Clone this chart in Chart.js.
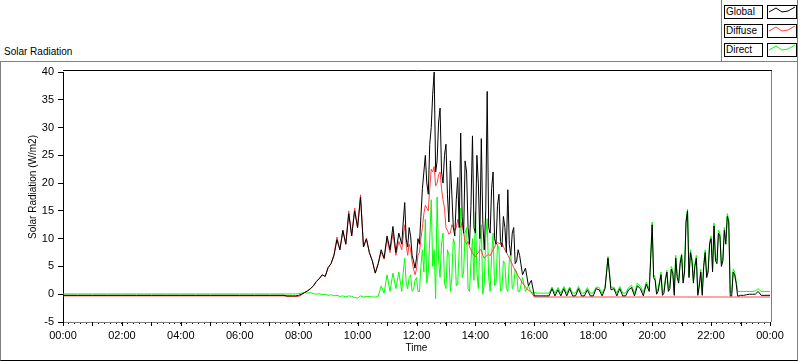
<!DOCTYPE html>
<html>
<head>
<meta charset="utf-8">
<script src="https://cdn.jsdelivr.net/npm/chart.js@4.4.1/dist/chart.umd.min.js"></script>
<style>
body{margin:0;background:#fff;font-family:"Liberation Sans",Arial,sans-serif;}
#wrap{position:relative;width:800px;height:361px;overflow:hidden;background:#fff}
#c{position:absolute;left:0;top:0}
.frame{position:absolute;left:0;top:61px;width:796px;height:298px;border-top:1px solid #808080;border-left:1px solid #808080;border-right:1px solid #808080;border-bottom:1px solid #000}
.panel{position:absolute;left:721px;top:0;width:75px;height:61px;border-left:1px solid #808080;border-right:1px solid #808080}
.title{position:absolute;left:4px;top:45px;font-size:10px;line-height:13px;color:#000}
.lab{position:absolute;left:724px;width:36px;height:12px;border:1px solid #000;font-size:10px;line-height:12px;padding-left:1px;color:#000}
.smp{position:absolute;left:767px;width:28px;height:12px;border:1px solid #000}
.smp svg{display:block}
</style>
</head>
<body>
<div id="wrap">
  <div class="frame"></div>
  <div class="panel"></div>
  <div class="title">Solar Radiation</div>
  <div class="lab" style="top:5px">Global</div>
  <div class="smp" style="top:5px"><svg width="28" height="12"><polyline points="1,6 8,2 14,6 20,5 27,1" fill="none" stroke="#000" stroke-width="1"/></svg></div>
  <div class="lab" style="top:24px">Diffuse</div>
  <div class="smp" style="top:24px"><svg width="28" height="12"><polyline points="1,6 8,2 14,6 20,5 27,1" fill="none" stroke="#ff4040" stroke-width="1"/></svg></div>
  <div class="lab" style="top:43px">Direct</div>
  <div class="smp" style="top:43px"><svg width="28" height="12"><polyline points="1,6 8,2 14,6 20,5 27,1" fill="none" stroke="#00ff00" stroke-width="1"/></svg></div>
  <canvas id="c" width="800" height="361"></canvas>
</div>
<script>
// sample times in hours of the day
const times = [
  // night
  0, 0.5, 1, 1.5, 2, 2.5, 3, 3.5, 4, 4.5, 5, 5.5, 6, 6.5, 7, 7.5,
  // morning
  7.6, 7.7, 7.8, 7.9,
  8.0, 8.1, 8.2, 8.3, 8.4, 8.5, 8.6, 8.7, 8.8, 8.9,
  9.0, 9.1, 9.2, 9.3, 9.4, 9.5, 9.6, 9.7, 9.8, 9.9,
  10.0, 10.1, 10.2, 10.3, 10.4, 10.5, 10.6, 10.7, 10.8, 10.9,
  11.0, 11.1, 11.2, 11.3, 11.4,
  // midday
  11.5, 11.55, 11.6, 11.65, 11.7, 11.75, 11.8, 11.85, 11.9, 11.95,
  12.0, 12.05, 12.1, 12.15, 12.2, 12.25, 12.3, 12.35, 12.4, 12.45,
  12.5, 12.55, 12.6, 12.65, 12.7, 12.75, 12.8, 12.85, 12.9, 12.95,
  13.0, 13.05, 13.1, 13.15, 13.2, 13.25, 13.3, 13.35, 13.4, 13.45,
  13.5, 13.55, 13.6, 13.65, 13.7, 13.75, 13.8, 13.85, 13.9, 13.95,
  14.0, 14.05, 14.1, 14.15, 14.2, 14.25, 14.3, 14.35, 14.4, 14.45,
  14.5, 14.55, 14.6, 14.65, 14.7, 14.75, 14.8, 14.85, 14.9, 14.95,
  15.0, 15.05, 15.1, 15.15, 15.2, 15.25, 15.3, 15.35, 15.4, 15.45,
  15.5,
  // afternoon
  15.6, 15.7, 15.8, 15.9,
  16.0, 16.1, 16.2, 16.3, 16.4, 16.5, 16.6, 16.7, 16.8, 16.9,
  17.0, 17.1, 17.2, 17.3, 17.4, 17.5, 17.6, 17.7, 17.8, 17.9,
  18.0, 18.1, 18.2, 18.3, 18.4, 18.5, 18.6, 18.7, 18.8, 18.9,
  19.0, 19.1, 19.2, 19.3, 19.4, 19.5, 19.6, 19.7, 19.8, 19.9,
  // evening
  20.0, 20.05, 20.1, 20.15, 20.2, 20.25, 20.3, 20.35, 20.4, 20.45,
  20.5, 20.55, 20.6, 20.65, 20.7, 20.75, 20.8, 20.85, 20.9, 20.95,
  21.0, 21.05, 21.1, 21.15, 21.2, 21.25, 21.3, 21.35, 21.4, 21.45,
  21.5, 21.55, 21.6, 21.65, 21.7, 21.75, 21.8, 21.85, 21.9, 21.95,
  22.0, 22.05, 22.1, 22.15, 22.2, 22.25, 22.3, 22.35, 22.4, 22.45,
  22.5, 22.55, 22.6, 22.65, 22.7, 22.75, 22.8, 22.85, 22.9, 22.95,
  23.0,
  23.1, 23.2, 23.3, 23.4, 23.5, 23.6, 23.7, 23.8, 23.9, 24.0
];

const globalRad = [
  -0.2, -0.2, -0.2, -0.2, -0.2, -0.2, -0.2, -0.2, -0.2, -0.2, -0.2, -0.2, -0.2, -0.2, -0.2, -0.2,
  -0.3, -0.3, -0.3, -0.3,
  -0.2, 0.0, 0.3, 0.6, 1.0, 1.5, 2.3, 2.8, 3.5, 3.2,
  4.8, 5.5, 7.0, 9.8, 8.0, 11.5, 9.0, 14.5, 10.5, 15.0,
  12.0, 17.5, 8.5, 10.0, 7.5, 6.0, 3.8, 5.5, 8.0, 6.5,
  10.5, 8.0, 12.2, 7.5, 11.0,
  9.0, 13.0, 16.5, 10.0, 8.5, 12.0, 10.5, 7.0, 6.0, 4.7,
  6.5, 10.0, 9.0, 14.0, 19.0, 22.0, 25.0, 20.0, 18.0, 27.0,
  30.0, 36.0, 40.0, 22.0, 24.0, 31.0, 33.5, 22.0, 20.0, 25.0,
  27.0, 18.0, 13.0, 24.0, 18.0, 12.0, 10.5, 17.0, 21.0, 12.0,
  29.0, 14.0, 11.0, 24.0, 22.0, 12.0, 9.0, 16.0, 28.5, 12.0,
  11.0, 25.0, 20.0, 10.0, 28.0, 13.0, 8.0, 15.0, 36.5, 12.0,
  11.0, 19.0, 22.0, 10.0, 9.0, 16.0, 18.0, 9.5, 8.5, 14.0,
  12.0, 7.5, 18.8, 9.0, 7.0, 11.0, 12.0, 5.5, 6.0, 8.0,
  7.0,
  3.5, 4.7, 1.5, 2.5,
  -0.3, -0.3, -0.3, -0.3, -0.3, -0.3, 1.0, -0.3, 0.8, -0.3,
  1.0, -0.3, 1.0, -0.3, -0.3, 1.0, -0.3, -0.3, 0.8, -0.3,
  -0.3, 1.0, 0.8, -0.3, 1.0, 6.5, 0.8, 1.0, -0.3, 1.0,
  -0.3, -0.3, 0.8, 1.2, -0.3, 1.5, 1.0, -0.3, 1.8, 0.5,
  12.5, 3.0, 2.5, 0.0, 0.5, 2.0, 3.5, -0.2, 0.2, 2.5,
  4.0, 0.5, 1.0, 4.5, 3.8, -0.2, 6.5, 3.0, 2.0, 5.5,
  7.0, 2.0, 4.0, 13.0, 15.0, 3.0, 7.5, 6.0, 2.0, 5.0,
  6.5, -0.2, 1.5, 4.0, -0.2, 5.0, 7.5, 3.0, 4.0, 9.0,
  10.0, 4.0, 12.3, 6.0, 5.5, 11.0, 10.5, 5.0, 6.0, 11.5,
  9.0, 14.0, 13.0, -0.3, -0.3, 4.0, 3.5, 2.0, -0.3, -0.3,
  -0.2,
  -0.2, -0.1, 0.0, 0.0, 0.0, 0.5, -0.2, -0.2, -0.2, -0.2
];

const diffuseRad = [
  -0.3, -0.3, -0.3, -0.3, -0.3, -0.3, -0.3, -0.3, -0.3, -0.3, -0.3, -0.3, -0.3, -0.3, -0.3, -0.3,
  -0.4, -0.4, -0.4, -0.4,
  -0.4, -0.1, 0.3, 0.6, 1.0, 1.5, 2.3, 2.8, 3.5, 3.2,
  4.8, 5.5, 7.2, 10.3, 8.0, 11.5, 9.0, 15.0, 10.5, 15.5,
  12.0, 17.9, 8.5, 10.0, 7.5, 6.0, 3.8, 5.5, 7.6, 6.3,
  10.0, 7.5, 11.0, 7.0, 9.5,
  8.0, 10.5, 12.5, 9.0, 7.0, 9.0, 8.0, 6.0, 4.5, 3.5,
  4.5, 7.0, 7.5, 10.0, 12.0, 14.5, 16.0, 15.5, 15.0, 19.0,
  22.5, 22.0, 23.0, 19.5, 20.0, 21.5, 22.0, 19.0, 17.0, 15.5,
  12.0, 11.5, 10.8, 11.0, 12.5, 12.0, 11.5, 12.0, 13.5, 12.5,
  12.0, 13.0, 11.0, 9.5, 9.0, 9.5, 8.5, 8.0, 7.5, 7.0,
  6.7, 7.2, 7.5, 8.0, 8.0, 7.0, 6.5, 6.8, 7.0, 7.2,
  6.9, 7.5, 8.0, 8.5, 9.0, 9.3, 9.2, 9.0, 9.2, 8.6,
  8.0, 7.6, 7.0, 6.5, 6.0, 5.4, 4.8, 4.3, 3.8, 3.3,
  2.9,
  2.0, 1.3, 0.7, 0.4,
  -0.5, -0.5, -0.5, -0.5, -0.5, -0.5, -0.5, -0.5, -0.5, -0.5,
  -0.5, -0.5, -0.5, -0.5, -0.5, -0.5, -0.5, -0.5, -0.5, -0.5,
  -0.5, -0.5, -0.5, -0.5, -0.5, -0.5, -0.5, -0.5, -0.5, -0.5,
  -0.5, -0.5, -0.5, -0.5, -0.5, -0.5, -0.5, -0.5, -0.5, -0.5,
  -0.5, -0.5, -0.5, -0.5, -0.5, -0.5, -0.5, -0.5, -0.5, -0.5,
  -0.5, -0.5, -0.5, -0.5, -0.5, -0.5, -0.5, -0.5, -0.5, -0.5,
  -0.5, -0.5, -0.5, -0.5, -0.5, -0.5, -0.5, -0.5, -0.5, -0.5,
  -0.5, -0.5, -0.5, -0.5, -0.5, -0.5, -0.5, -0.5, -0.5, -0.5,
  -0.5, -0.5, -0.5, -0.5, -0.5, -0.5, -0.5, -0.5, -0.5, -0.5,
  -0.5, -0.5, -0.5, -0.5, -0.5, -0.5, -0.5, -0.5, -0.5, -0.5,
  -0.5,
  -0.5, -0.5, -0.5, -0.5, -0.5, -0.5, -0.5, -0.5, -0.5, -0.5
];

const directRad = [
  0.05, 0.05, 0.05, 0.05, 0.05, 0.05, 0.05, 0.05, 0.05, 0.05, 0.05, 0.05, 0.05, 0.05, 0.05, 0.05,
  0.05, 0.05, 0.05, 0.05,
  0.1, 0.2, 0.3, 0.2, 0.3, 0.1, 0.0, 0.1, -0.1, 0.0,
  -0.2, -0.1, -0.3, -0.2, -0.4, -0.3, -0.5, -0.3, -0.4, -0.6,
  -0.7, -0.3, -0.5, -0.4, -0.4, -0.5, -0.5, -0.4, 1.5, 0.2,
  3.5, 0.5, 3.8, 1.0, 4.0,
  0.5, 4.0, 6.5, 2.0, 1.0, 3.0, 3.5, 0.5, 0.8, 2.5,
  3.0, 0.5, 0.5, 5.0, 8.0, 4.0, 13.5, 2.0, 4.0, 10.0,
  17.0, 5.0, 8.0, -0.8, 17.5, 6.0, 3.0, 9.0, 11.0, 2.0,
  1.0, 8.0, 7.0, 0.5, 3.0, 10.0, 9.0, 1.5, 2.0, 8.0,
  15.5, 3.0, 4.0, 11.0, 12.0, 1.0, 0.5, 6.0, 10.0, 2.5,
  14.8, 4.0, 1.0, 9.0, 12.5, 0.0, 2.0, 10.0, 13.6, 3.0,
  0.5, 7.0, 11.0, 1.5, 2.0, 9.0, 8.0, 0.5, 1.0, 6.0,
  5.5, 1.0, 0.5, 6.0, 7.5, 1.0, 1.5, 4.5, 4.0, 0.5,
  0.5,
  3.0, 0.5, 1.5, 0.2,
  0.3, 0.2, 0.2, 0.2, 0.2, 0.2, 1.3, 0.2, 1.2, 0.2,
  1.4, 0.2, 1.3, 0.2, 0.2, 1.4, 0.2, 0.2, 1.2, 0.2,
  0.2, 1.3, 1.2, 0.2, 1.3, 6.8, 1.2, 1.3, 0.2, 1.4,
  0.2, 0.2, 1.2, 1.6, 0.2, 2.0, 1.4, 0.3, 2.2, 1.0,
  13.0, 3.5, 3.0, 0.4, 1.0, 2.4, 4.0, 0.3, 0.7, 3.0,
  4.3, 1.0, 1.5, 5.0, 4.3, 0.3, 7.0, 3.5, 2.5, 6.0,
  7.3, 2.5, 4.5, 13.4, 15.3, 3.5, 8.0, 6.5, 2.5, 5.5,
  7.0, 0.3, 2.0, 4.5, 0.3, 5.5, 8.0, 3.5, 4.5, 9.5,
  10.5, 4.5, 12.8, 6.5, 6.0, 11.5, 11.0, 5.5, 6.5, 12.0,
  9.5, 14.5, 13.5, 0.3, 0.3, 4.5, 4.0, 2.5, 0.5, 0.5,
  0.5,
  0.5, 0.5, 0.5, 0.5, 0.6, 1.0, 0.5, 0.5, 0.5, 0.5
];

const yTitle = 'Solar Radiation (W/m2)';
const xTitle = 'Time';
const fontFam = '"Liberation Sans", Arial, sans-serif';

function pts(vals) {
  return times.map((t, i) => ({x: t, y: vals[i]}));
}

// frame lines, hour ticks and axis titles
const decor = {
  id: 'decor',
  afterDraw(chart) {
    const c = chart.ctx;
    const a = chart.chartArea;
    const xs = chart.scales.x;
    c.save();
    c.lineWidth = 1;
    c.strokeStyle = '#000';
    c.beginPath();
    c.moveTo(a.left, a.top - 1.5);
    c.lineTo(a.right + 2, a.top - 1.5);
    c.stroke();
    c.strokeStyle = '#808080';
    c.beginPath();
    c.moveTo(a.right + 1.5, a.top - 1);
    c.lineTo(a.right + 1.5, a.bottom);
    c.stroke();
    c.strokeStyle = '#000';
    xs.ticks.forEach(t => {
      if (Math.abs(t.value - Math.round(t.value)) < 1e-6) {
        const px = Math.round(xs.getPixelForValue(t.value)) + 0.5;
        c.beginPath();
        c.moveTo(px, a.bottom);
        c.lineTo(px, a.bottom + 4);
        c.stroke();
      }
    });
    c.fillStyle = '#000';
    c.font = '10px ' + fontFam;
    c.textAlign = 'center';
    c.textBaseline = 'middle';
    c.fillText(xTitle, (a.left + a.right) / 2, 348);
    c.translate(33, 187);
    c.rotate(-Math.PI / 2);
    c.fillText(yTitle, 0, 0);
    c.restore();
  }
};

const ctx = document.getElementById('c').getContext('2d');
new Chart(ctx, {
  type: 'line',
  data: {
    datasets: [
      {label: 'Global', data: pts(globalRad), borderColor: '#000000', borderWidth: 1, pointRadius: 0, tension: 0},
      {label: 'Diffuse', data: pts(diffuseRad), borderColor: '#ff4040', borderWidth: 1, pointRadius: 0, tension: 0},
      {label: 'Direct', data: pts(directRad), borderColor: '#00ff00', borderWidth: 1, pointRadius: 0, tension: 0}
    ]
  },
  options: {
    responsive: false,
    animation: false,
    devicePixelRatio: 1,
    layout: {padding: {left: 0, right: 30, top: 72, bottom: 0}},
    plugins: {legend: {display: false}, tooltip: {enabled: false}},
    scales: {
      x: {
        type: 'linear',
        min: 0,
        max: 24,
        afterFit(s) { s.height = 39; },
        border: {display: true, color: '#808080'},
        grid: {drawOnChartArea: false, tickLength: 2, color: '#000'},
        ticks: {
          stepSize: 0.2,
          autoSkip: false,
          maxRotation: 0,
          padding: 5,
          color: '#000',
          font: {family: fontFam, size: 11},
          callback(v) {
            const r = Math.round(v * 10) / 10;
            if (Math.abs(r / 2 - Math.round(r / 2)) < 1e-6) {
              const hh = Math.round(r) % 24;
              return String(hh).padStart(2, '0') + ':00';
            }
            return '';
          }
        }
      },
      y: {
        min: -5,
        max: 40,
        afterFit(s) { s.width = 63; },
        border: {display: true, color: '#000'},
        grid: {drawOnChartArea: false, tickLength: 5, color: '#000'},
        ticks: {stepSize: 5, padding: 4, color: '#000', font: {family: fontFam, size: 11}}
      }
    }
  },
  plugins: [decor]
});
</script>
</body>
</html>
